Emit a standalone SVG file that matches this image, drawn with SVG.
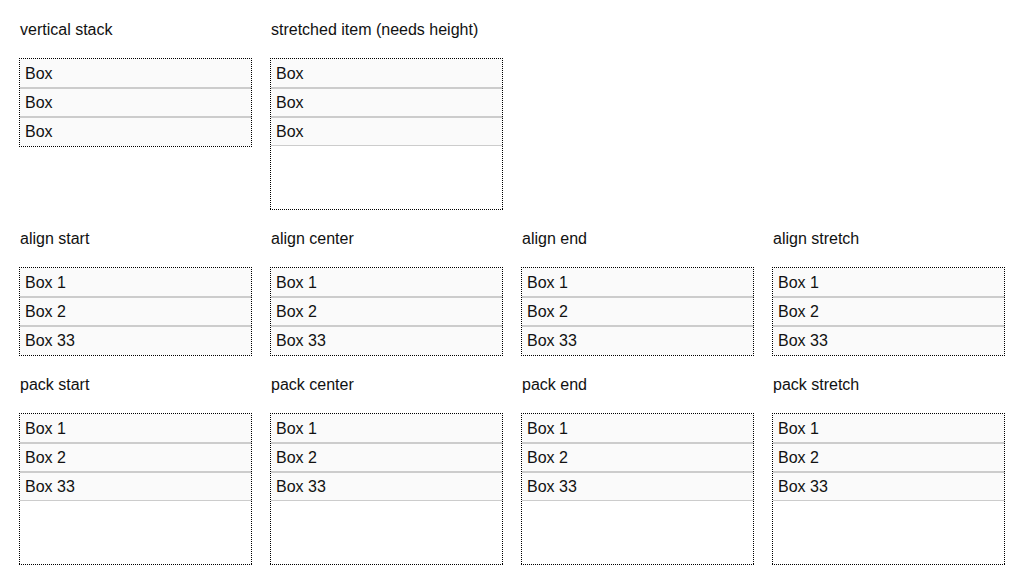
<svg xmlns="http://www.w3.org/2000/svg" width="1024" height="584" viewBox="0 0 1024 584">
<style>
text{font-family:"Liberation Sans",Arial,sans-serif;font-size:16px;fill:#111}
.frame line{stroke:#000;stroke-width:1;stroke-dasharray:1 1}
.item{fill:#fafafa}
.sep{stroke:#cccccc;stroke-width:2}
.sep1{stroke:#cccccc;stroke-width:1}
</style>
<defs>
<g id="items3">
<rect class="item" x="1" y="1" width="232" height="87"/>
<line class="sep" x1="1" y1="30" x2="233" y2="30"/>
<line class="sep" x1="1" y1="59" x2="233" y2="59"/>
</g>
<g id="frameS" class="frame">
<line x1="0" y1="0.5" x2="233" y2="0.5"/>
<line x1="0" y1="88.5" x2="233" y2="88.5"/>
<line x1="0.5" y1="0" x2="0.5" y2="89"/>
<line x1="232.5" y1="0" x2="232.5" y2="89"/>
</g>
<g id="frameT" class="frame">
<line x1="0" y1="0.5" x2="233" y2="0.5"/>
<line x1="0" y1="151.5" x2="233" y2="151.5"/>
<line x1="0.5" y1="0" x2="0.5" y2="152"/>
<line x1="232.5" y1="0" x2="232.5" y2="152"/>
</g>
</defs>
<rect width="1024" height="584" fill="#fff"/>

<g id="vertical-stack">
<text x="20" y="35">vertical stack</text>
<use href="#items3" x="19" y="58"/>
<text x="25" y="79">Box</text><text x="25" y="108">Box</text><text x="25" y="137">Box</text>
<use href="#frameS" x="19" y="58"/>
</g>

<g id="stretched-item">
<text x="271" y="35">stretched item (needs height)</text>
<use href="#items3" x="270" y="58"/>
<line class="sep1" x1="271" y1="145.5" x2="503" y2="145.5"/>
<text x="276" y="79">Box</text><text x="276" y="108">Box</text><text x="276" y="137">Box</text>
<use href="#frameT" x="270" y="58"/>
</g>

<g id="align-start">
<text x="20" y="244">align start</text>
<use href="#items3" x="19" y="267"/>
<text x="25" y="288">Box 1</text><text x="25" y="317">Box 2</text><text x="25" y="346">Box 33</text>
<use href="#frameS" x="19" y="267"/>
</g>
<g id="align-center">
<text x="271" y="244">align center</text>
<use href="#items3" x="270" y="267"/>
<text x="276" y="288">Box 1</text><text x="276" y="317">Box 2</text><text x="276" y="346">Box 33</text>
<use href="#frameS" x="270" y="267"/>
</g>
<g id="align-end">
<text x="522" y="244">align end</text>
<use href="#items3" x="521" y="267"/>
<text x="527" y="288">Box 1</text><text x="527" y="317">Box 2</text><text x="527" y="346">Box 33</text>
<use href="#frameS" x="521" y="267"/>
</g>
<g id="align-stretch">
<text x="773" y="244">align stretch</text>
<use href="#items3" x="772" y="267"/>
<text x="778" y="288">Box 1</text><text x="778" y="317">Box 2</text><text x="778" y="346">Box 33</text>
<use href="#frameS" x="772" y="267"/>
</g>

<g id="pack-start">
<text x="20" y="390">pack start</text>
<use href="#items3" x="19" y="413"/>
<line class="sep1" x1="20" y1="500.5" x2="252" y2="500.5"/>
<text x="25" y="434">Box 1</text><text x="25" y="463">Box 2</text><text x="25" y="492">Box 33</text>
<use href="#frameT" x="19" y="413"/>
</g>
<g id="pack-center">
<text x="271" y="390">pack center</text>
<use href="#items3" x="270" y="413"/>
<line class="sep1" x1="271" y1="500.5" x2="503" y2="500.5"/>
<text x="276" y="434">Box 1</text><text x="276" y="463">Box 2</text><text x="276" y="492">Box 33</text>
<use href="#frameT" x="270" y="413"/>
</g>
<g id="pack-end">
<text x="522" y="390">pack end</text>
<use href="#items3" x="521" y="413"/>
<line class="sep1" x1="522" y1="500.5" x2="754" y2="500.5"/>
<text x="527" y="434">Box 1</text><text x="527" y="463">Box 2</text><text x="527" y="492">Box 33</text>
<use href="#frameT" x="521" y="413"/>
</g>
<g id="pack-stretch">
<text x="773" y="390">pack stretch</text>
<use href="#items3" x="772" y="413"/>
<line class="sep1" x1="773" y1="500.5" x2="1005" y2="500.5"/>
<text x="778" y="434">Box 1</text><text x="778" y="463">Box 2</text><text x="778" y="492">Box 33</text>
<use href="#frameT" x="772" y="413"/>
</g>
<g id="connectors"/>
</svg>
